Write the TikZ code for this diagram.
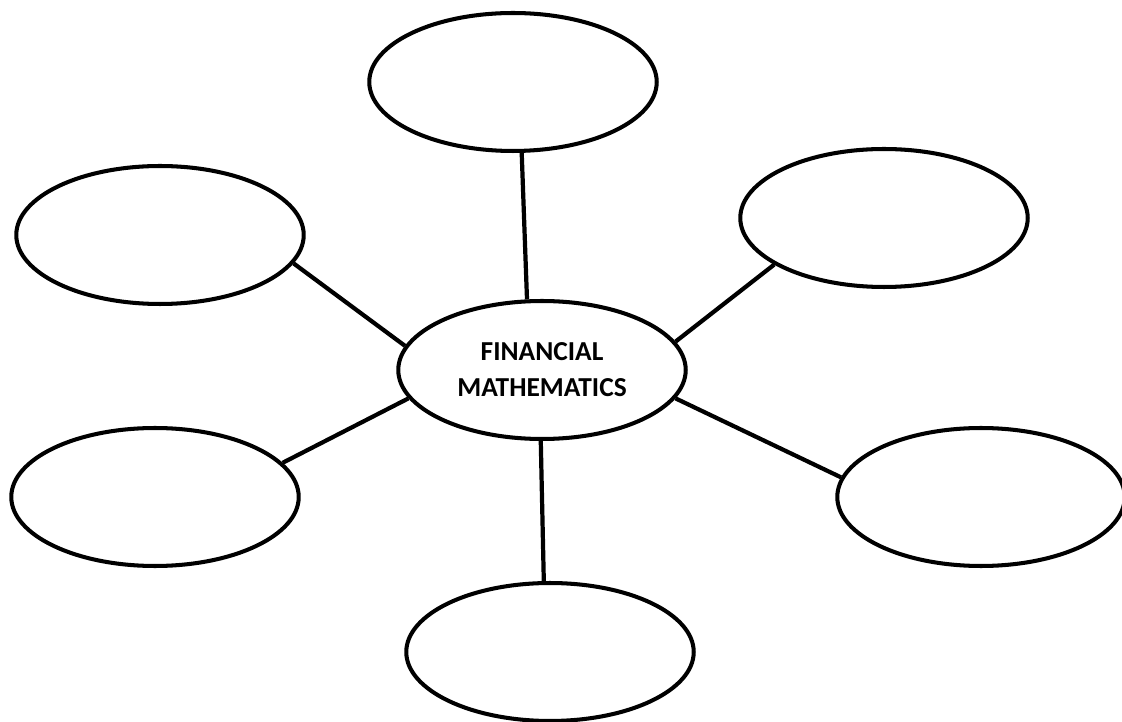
\documentclass[tikz,border=0pt]{standalone}
\usepackage{fontspec}
\setsansfont{Carlito}
\usetikzlibrary{shapes.geometric}
\tikzset{
  bubble/.style={draw, ellipse, line width=2.3pt, minimum width=5.75cm, minimum height=2.76cm, inner sep=0pt},
  link/.style={line width=2.4pt}
}
\begin{document}
\begin{tikzpicture}[x=0.02cm, y=-0.02cm]
        \useasboundingbox (0,0) rectangle (1122,722);
        % Concept map around the central topic
        \node[bubble, align=center, font=\sffamily\bfseries\fontsize{15.6}{20.5}\selectfont] (hub) at (542,370) {FINANCIAL\\MATHEMATICS};
        \foreach \name/\pos/\from/\to in {top/{(513,82)}/102/-83,upleft/{(160,235)}/170/-12,upright/{(884,218)}/12/-157,lowleft/{(155,497)}/192/15,lowright/{(981,497)}/-12/172,bottom/{(550,652)}/-91/95}
        {
            \node[bubble] (\name) at \pos {};
            \draw[link] (hub.\from) -- (\name.\to);
        }
    \end{tikzpicture}
\end{document}
